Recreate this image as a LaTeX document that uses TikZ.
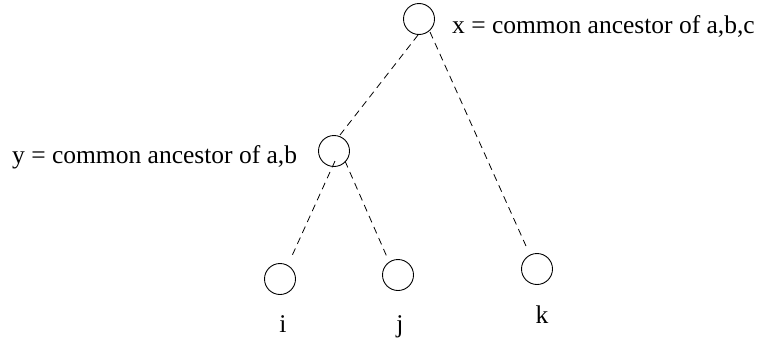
\documentclass[tikz,border=0pt]{standalone}
\usepackage{fontspec}
\setmainfont{Liberation Serif}
\usetikzlibrary{calc}
\begin{document}
\begin{tikzpicture}[x=1pt,y=-1pt,
  vtx/.style={draw,circle,minimum size=31pt,inner sep=0pt,line width=0.9pt},
  lbl/.style={inner sep=0pt,font=\fontsize{25.5}{30}\selectfont},
  edge/.style={line width=0.8pt,dash pattern=on 7pt off 5pt}]
\useasboundingbox (0,0) rectangle (757,340);
\node[vtx] (x) at (419,19) {};
\node[vtx] (y) at (334,151) {};
\node[vtx] (i) at (280,279) {};
\node[vtx] (j) at (398,275) {};
\node[vtx] (k) at (537,269) {};
\node[lbl,anchor=base west] (xl) at (452,33) {x = common ancestor of a,b,c};
\node[lbl,anchor=base west] (yl) at (12,163) {y = common ancestor of a,b};
\node[lbl,anchor=base] (il) at (283,332) {i};
\node[lbl,anchor=base] (jl) at (400,332) {j};
\node[lbl,anchor=base] (kl) at (542,323) {k};
\draw[edge] ($(x)+(-1,16)$) -- ($(y)+(6,-16)$);
\draw[edge] ($(x)+(11,13)$) -- ($(k)+(-11,-23)$);
\draw[edge] ($(y)+(1,10)$) -- ($(i)+(11,-21)$);
\draw[edge] ($(y)+(11,10)$) -- ($(j)+(-11,-18)$);
\end{tikzpicture}
\end{document}
